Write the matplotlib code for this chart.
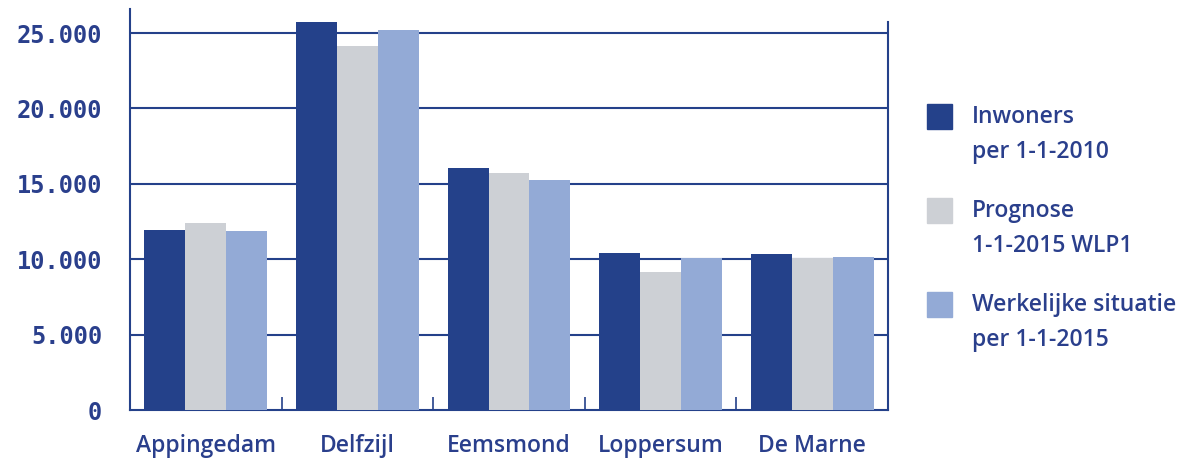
import matplotlib.pyplot as plt
import numpy as np
from matplotlib.patches import Rectangle

gemeenten = ["Appingedam", "Delfzijl", "Eemsmond", "Loppersum", "De Marne"]
inwoners_2010 = [11950, 25730, 16050, 10410, 10350]
prognose_2015 = [12400, 24140, 15720, 9150, 10080]
werkelijk_2015 = [11870, 25200, 15250, 10080, 10150]
reeks_labels = ["Inwoners\nper 1-1-2010", "Prognose\n1-1-2015 WLP1", "Werkelijke situatie\nper 1-1-2015"]
y_ticks = [0, 5000, 10000, 15000, 20000, 25000]
y_ticklabels = ["0", "5.000", "10.000", "15.000", "20.000", "25.000"]

blauw = "#24418a"
grijs = "#cdd0d5"
lichtblauw = "#93aad6"
tekst = "#2a3f8c"
kleuren = [blauw, grijs, lichtblauw]

fig = plt.figure(figsize=(11.92, 4.65), dpi=100)
ax = fig.add_axes([130/1192, 55/465, 758/1192, 401/465])

x = np.arange(len(gemeenten))
w = 0.27
reeksen = [inwoners_2010, prognose_2015, werkelijk_2015]
for i, (vals, c) in enumerate(zip(reeksen, kleuren)):
    ax.bar(x + (i - 1) * w, vals, width=w, color=c, zorder=3)

ax.set_xlim(-0.5, len(gemeenten) - 0.5)
ax.set_ylim(0, 26600)
ax.set_yticks(y_ticks)
ax.set_yticklabels(y_ticklabels, family="DejaVu Sans Mono", fontsize=17,
                   fontweight="bold", color=tekst)
ax.tick_params(axis="y", length=0, pad=20)
for yv in y_ticks[1:]:
    ax.axhline(yv, color=blauw, lw=1.5, zorder=1)

ax.set_xticks(x)
ax.set_xticklabels(gemeenten, family="Open Sans", fontsize=16.5,
                   fontweight="semibold", color=tekst)
ax.tick_params(axis="x", which="major", length=0, pad=17)
ax.set_xticks(x[:-1] + 0.5, minor=True)
ax.tick_params(axis="x", which="minor", direction="in", length=9.5,
               width=1.2, color=blauw)

for s in ["left", "right", "bottom"]:
    ax.spines[s].set_color(blauw)
    ax.spines[s].set_linewidth(1.5)
ax.spines["top"].set_visible(False)
ax.spines["right"].set_bounds(0, max(inwoners_2010))

# legenda
for i, (lab, c) in enumerate(zip(reeks_labels, kleuren)):
    ytop = 1 - (104 + i * 94) / 465
    fig.add_artist(Rectangle((927/1192, ytop - 25/465), 25/1192, 25/465,
                             transform=fig.transFigure, color=c))
    fig.text(972/1192, ytop - 1/465, lab, va="top", ha="left", fontsize=16.5,
             family="Open Sans", fontweight="semibold", color=tekst,
             linespacing=1.62)

fig.savefig("out.png", dpi=100)
